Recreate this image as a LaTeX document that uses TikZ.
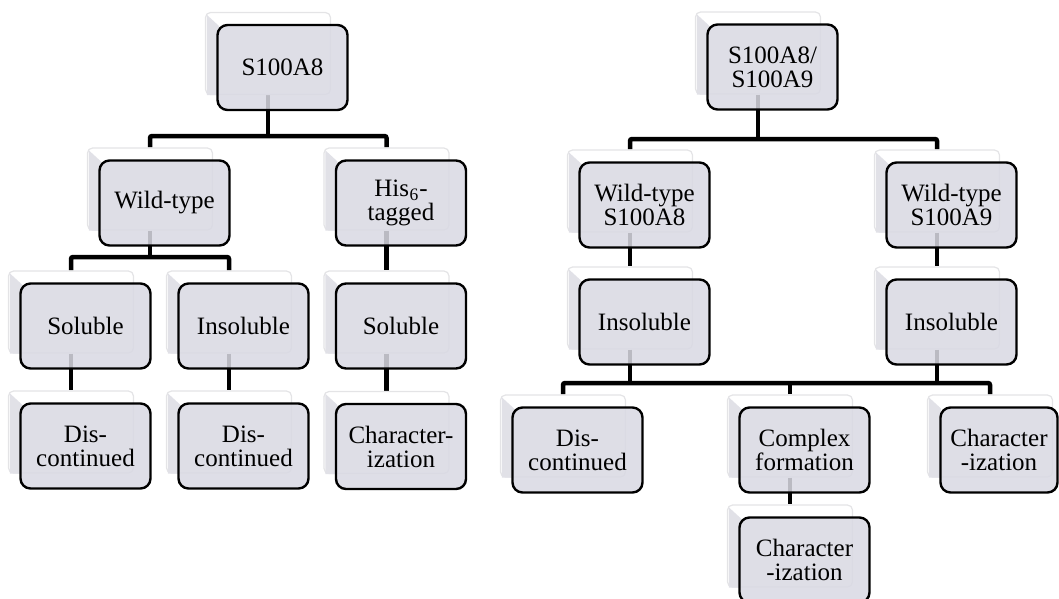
\documentclass[tikz,border=0pt]{standalone}
\usepackage{fontspec}
\setmainfont{Liberation Serif}
\usetikzlibrary{backgrounds}

\definecolor{boxfill}{HTML}{D9D9E3}
\definecolor{backline}{HTML}{E4E4E6}
\definecolor{bevelfill}{HTML}{E1E1E7}

% back plate, bevel and front box of one entry
\newcommand{\tierbox}[5][]{%
  \node[backbox] (#2) at (#3,#4) {};
  \fill[bevel] ([shift={(2pt,-3pt)}]#2.north west) -- ([shift={(14pt,-14pt)}]#2.north west)
    -- ([shift={(14pt,0pt)}]#2.south west) -- ([shift={(2pt,0pt)}]#2.south west) -- cycle;
  \node[frontbox,#1] (#2f) at ([shift={(14.5pt,-14pt)}]#2.center) {#5};
}

\begin{document}
\begin{tikzpicture}[x=1pt,y=-1pt,
    backbox/.style={draw=backline,fill=white,line width=1.2pt,rounded corners=5pt,
        minimum width=125pt,minimum height=82pt,inner sep=0pt},
    bevel/.style={fill=bevelfill},
    frontbox/.style={draw=black,line width=2.4pt,fill=boxfill,fill opacity=0.86,
        text opacity=1,rounded corners=10pt,minimum width=130pt,minimum height=85pt,
        inner sep=0pt,align=center,font=\fontsize{25}{24}\selectfont},
    link/.style={line width=4.5pt,rounded corners=2pt}]
\useasboundingbox (0,0) rectangle (1059,598);

% left tree
\tierbox{sa}{268}{53.5}{S100A8}
\tierbox{wt}{150}{189}{Wild-type}
\tierbox{his}{386.5}{189}{His\kern0.5pt\textsubscript{6}\kern0.5pt-\\tagged}
\tierbox{solA}{71}{312}{Soluble}
\tierbox{insA}{229}{312}{Insoluble}
\tierbox{solB}{386.5}{312}{Soluble}
\tierbox{disA}{71}{432}{Dis-\\continued}
\tierbox{disB}{229}{432}{Dis-\\continued}
\tierbox{charA}{386.5}{432.5}{Character-\\ization}

% right tree
\tierbox{sab}{758}{53}{S100A8/\\S100A9}
\tierbox{wta}{630}{191}{Wild-type\\S100A8}
\tierbox{wtb}{937}{191}{Wild-type\\S100A9}
\tierbox{insB}{630}{308}{Insoluble}
\tierbox{insC}{937}{308}{Insoluble}
\tierbox{disC}{563}{436}{Dis-\\continued}
\tierbox{cplx}{790}{436}{Complex\\formation}
\tierbox[minimum width=117pt,xshift=-5.5pt]{charB}{990}{436}{Character\\-ization}
\tierbox{charC}{790}{546}{Character\\-ization}

\coordinate (barA) at (0,136);
\coordinate (barB) at (0,257);
\coordinate (barC) at (0,139);
\coordinate (barD) at (0,383);

\begin{scope}[on background layer]
\draw[link] (wt) -- (wt |- barA) -| (his);
\draw[link] (sa) -- (sa |- barA);
\draw[link] (solA) -- (solA |- barB) -| (insA);
\draw[link] (wt) -- (wt |- barB);
\draw[link] (his) -- (solB);
\draw[link] (solA) -- (disA);
\draw[link] (insA) -- (disB);
\draw[link] (solB) -- (charA);

\draw[link] (wta) -- (wta |- barC) -| (wtb);
\draw[link] (sab) -- (sab |- barC);
\draw[link] (wta) -- (insB);
\draw[link] (wtb) -- (insC);
\draw[link] (disC) -- (disC |- barD) -| (charB);
\draw[link] (insB) -- (insB |- barD);
\draw[link] (insC) -- (insC |- barD);
\draw[link] (cplx) -- (cplx |- barD);
\draw[link] (cplx) -- (charC);
\end{scope}
\end{tikzpicture}
\end{document}
